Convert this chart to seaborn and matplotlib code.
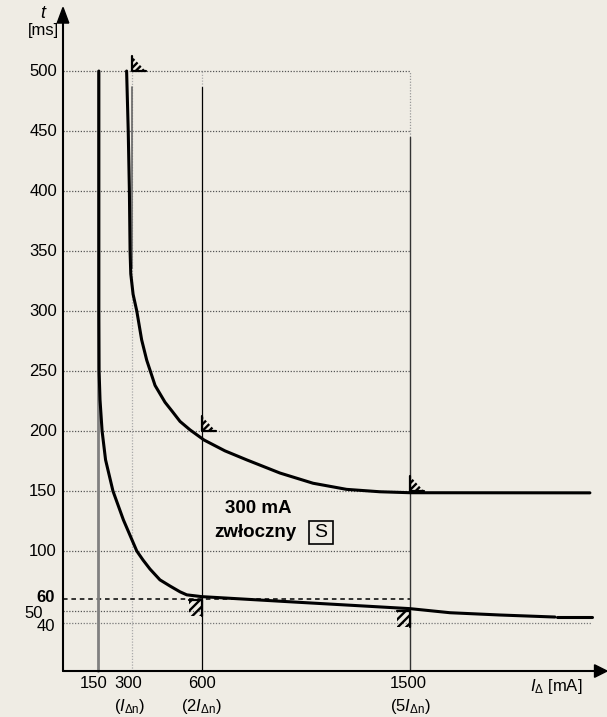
import numpy as np
import pandas as pd
import matplotlib
matplotlib.use("Agg")
import matplotlib.pyplot as plt
from matplotlib.patches import Polygon, Rectangle
import seaborn as sns

# break-time curve (upper) and non-actuating time curve (lower)
upper_ma = [275, 282, 287, 290, 293, 303, 319, 340, 362, 398, 441, 471, 506, 549, 610, 700, 794,
            938, 1081, 1226, 1370, 1500, 2278]
upper_ms = [500, 450, 400, 350, 331, 314, 300, 276, 259, 238, 224, 216.7, 208, 201, 192.5, 183.5, 176,
            165, 156.5, 151.4, 149.4, 148.6, 148.5]

lower_ma = [155, 155, 156, 160, 169, 184, 216, 261, 319, 346, 376, 419, 463, 506, 535, 600, 1000,
            1500, 1673, 1889, 2127]
lower_ms = [500, 300, 250, 226, 200, 176, 150, 126, 100, 92.5, 85, 76, 70.8, 66, 63.5, 62, 57.5,
            52, 48.6, 46.7, 45]

tail_ma = [2135, 2287]
tail_ms = [45.2, 45.2]

grid_ms = [500, 450, 400, 350, 300, 250, 200, 150, 100, 50]
tick_ms = [500, 450, 400, 350, 300, 250, 200, 150, 100]

# limit corners: (mA, ms)
upper_limits = [(297, 500), (600, 200), (1500, 150)]
lower_limits = [(600, 59), (1500, 50)]

bg = "#efece4"
sns.set_theme(style="white")
plt.rcParams["font.family"] = ["Liberation Sans", "DejaVu Sans"]
plt.rcParams["text.color"] = "black"
plt.rcParams["mathtext.fontset"] = "custom"
plt.rcParams["mathtext.rm"] = "Liberation Sans"
plt.rcParams["mathtext.it"] = "Liberation Sans:italic"
plt.rcParams["hatch.linewidth"] = 1.7

fig = plt.figure(figsize=(6.07, 7.17), dpi=100, facecolor=bg)
ax = fig.add_axes([0, 0, 1, 1])
ax.set_facecolor(bg)
ax.set_xlim(-272.4, 2351.9)
ax.set_ylim(-38.3, 559.2)
ax.axis("off")

dot = (0, (1, 1.3))
# horizontal grid
for v in grid_ms:
    ax.plot([0, 1500], [v, v], color="#555555", lw=0.9, ls=dot, zorder=1)
ax.plot([0, 2287], [40, 40], color="#777777", lw=0.9, ls=dot, zorder=1)
ax.plot([0, 1500], [60, 60], color="black", lw=1.1, ls=(0, (3, 2.5)), zorder=2)

# vertical guides
ax.plot([150, 150], [0, 500], color="#808080", lw=2.0, zorder=2)
ax.plot([300, 300], [0, 500], color="#aaaaaa", lw=0.9, ls=dot, zorder=1)
ax.plot([300, 300], [336, 487], color="#666666", lw=1.2, zorder=2)
ax.plot([600, 600], [0, 487], color="black", lw=0.9, zorder=2)
ax.plot([600, 600], [487, 500], color="#aaaaaa", lw=0.9, ls=dot, zorder=1)
ax.plot([1500, 1500], [445, 500], color="#999999", lw=0.9, ls=dot, zorder=1)
ax.plot([1500, 1500], [0, 445], color="#333333", lw=1.0, zorder=2)

# curves
up = pd.DataFrame({"mA": upper_ma, "ms": upper_ms})
sns.lineplot(data=up, x="mA", y="ms", sort=False, estimator=None, color="black", lw=2.2, ax=ax, zorder=4)
low = pd.DataFrame({"mA": lower_ma, "ms": lower_ms})
sns.lineplot(data=low, x="mA", y="ms", sort=False, estimator=None, color="black", lw=2.2, ax=ax, zorder=4)
sns.lineplot(x=tail_ma, y=tail_ms, sort=False, estimator=None, color="black", lw=2.2, ax=ax, zorder=4)

# limit markers
w, h = 60, 12.5
for cx, cy in upper_limits:
    ax.add_patch(Polygon([(cx, cy), (cx, cy + h), (cx + w, cy)], closed=True, facecolor="none",
                         edgecolor="black", lw=0, hatch="/////", zorder=5))
    ax.plot([cx, cx, cx + w], [cy + h, cy, cy], color="black", lw=1.6, zorder=5)
wl, hl = 55, 13
for cx, cy in lower_limits:
    ax.add_patch(Rectangle((cx - wl, cy - hl), wl, hl, facecolor="none", edgecolor="black", lw=0,
                           hatch="////", zorder=5))
    ax.plot([cx - wl, cx, cx], [cy, cy, cy - hl], color="black", lw=1.6, zorder=5)

# axes with arrows
ax.plot([0, 0], [0, 541], color="black", lw=1.5, zorder=6)
ax.plot([0, 2300], [0, 0], color="black", lw=1.5, zorder=6)
ax.add_patch(Polygon([(0, 553), (-25, 540), (25, 540)], closed=True, color="black", zorder=6))
ax.add_patch(Polygon([(2352, 0), (2298, 5.2), (2298, -5.2)], closed=True, color="black", zorder=6))

fs = 12
ax.text(-86, 548, "t", fontsize=fs + 1, style="italic", ha="center", va="center")
ax.text(-86, 534, "[ms]", fontsize=fs, ha="center", va="center")
for v in tick_ms:
    ax.text(-26, v, str(v), fontsize=fs, ha="right", va="center")
ax.text(-34, 61.3, "60", fontsize=fs, fontweight="bold", ha="right", va="center")
ax.text(-86, 48, "50", fontsize=fs, ha="right", va="center")
ax.text(-34, 37.2, "40", fontsize=fs, ha="right", va="center")

ax.text(134, -10.8, "150", fontsize=fs, ha="center", va="center")
ax.text(281, -10.8, "300", fontsize=fs, ha="center", va="center")
ax.text(600, -10.8, "600", fontsize=fs, ha="center", va="center")
ax.text(1492, -10.8, "1500", fontsize=fs, ha="center", va="center")
ax.text(290, -29.2, r"($I_{\mathrm{Δn}}$)", fontsize=fs, ha="center", va="center")
ax.text(600, -29.2, r"(2$I_{\mathrm{Δn}}$)", fontsize=fs, ha="center", va="center")
ax.text(1500, -29.2, r"(5$I_{\mathrm{Δn}}$)", fontsize=fs, ha="center", va="center")
ax.text(2131, -13.1, r"$I_{\mathrm{Δ}}$ [mA]", fontsize=fs, ha="center", va="center")

ax.text(842, 135.8, "300 mA", fontsize=13.5, fontweight="bold", ha="center", va="center")
ax.text(653, 115.2, "zwłoczny", fontsize=13.5, fontweight="bold", ha="left", va="center")
ax.text(1115, 115.5, "S", fontsize=14, ha="center", va="center")
ax.add_patch(Rectangle((1063, 105.8), 104, 19.5, facecolor="none", edgecolor="black", lw=1.2, zorder=5))

fig.savefig("out.png", dpi=100, facecolor=bg)
